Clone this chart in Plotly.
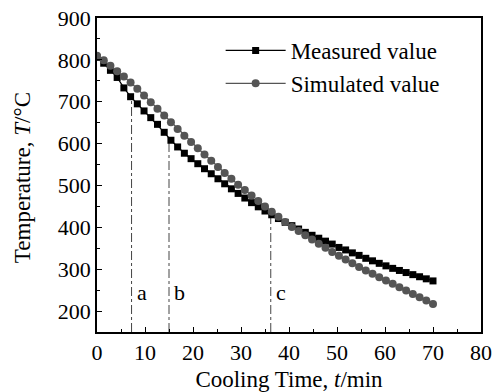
import plotly.graph_objects as go

# --- data ---
time_min = [round(1.4 * i, 1) for i in range(51)]
measured = [806, 792, 775, 758, 733, 712, 695, 678, 662, 646,
            627, 608, 592, 577, 564, 552, 540, 528, 516, 504,
            492, 481, 470, 459, 449, 439, 430, 421, 412, 404,
            396, 388, 381, 374, 367, 360, 352, 346, 339, 333,
            326, 320, 314, 308, 302, 297, 292, 287, 282, 277, 272]
simulated = [810, 799, 786, 773, 760, 746, 731, 715, 699, 683,
             667, 651, 635, 619, 604, 589, 574, 559, 544, 530,
             516, 502, 489, 476, 463, 450, 437, 425, 413, 401,
             391, 381, 371, 361, 351, 341, 332, 323, 314, 305,
             297, 289, 281, 273, 265, 257, 249, 241, 233, 225, 217]

ref_labels = ["a", "b", "c"]
ref_times = [7.2, 15.0, 36.2]
ref_temps = [712, 613, 432]

FONT = "Liberation Serif, Times New Roman, serif"
FS = 22
FT = 23
GRAY = "#555555"

fig = go.Figure()
fig.add_trace(go.Scatter(
    x=time_min, y=measured, name="Measured value", mode="lines+markers",
    line=dict(color="black", width=1.2),
    marker=dict(symbol="square", size=7, color="black")))
fig.add_trace(go.Scatter(
    x=time_min, y=simulated, name="Simulated value", mode="lines+markers",
    line=dict(color=GRAY, width=1.2),
    marker=dict(symbol="circle", size=8, color=GRAY)))

for lab, t, v in zip(ref_labels, ref_times, ref_temps):
    fig.add_shape(type="line", x0=t, x1=t, y0=150, y1=v, xref="x", yref="y",
                  line=dict(color="#444444", width=1, dash="dashdot"), layer="below")
    fig.add_annotation(x=t, y=245, text=lab, showarrow=False, xref="x", yref="y",
                       xanchor="left", xshift=3,
                       font=dict(family=FONT, size=FS, color="black"))

# y-axis title as a rotated annotation for exact placement
fig.add_annotation(text="Temperature, <i>T</i>/°C", xref="paper", yref="paper",
                   x=0, y=0.49, xanchor="center", yanchor="middle", xshift=-75,
                   textangle=-90, showarrow=False,
                   font=dict(family=FONT, size=FT, color="black"))

axis_common = dict(
    showgrid=False, zeroline=False, showline=True, linecolor="black", linewidth=1.5,
    mirror=True, ticks="inside", ticklen=5, tickwidth=1.2, tickcolor="black",
    tickfont=dict(family=FONT, size=FS, color="black"), automargin=False,
)

fig.update_xaxes(
    range=[0, 80], dtick=10, tick0=0,
    minor=dict(dtick=5, ticks="inside", ticklen=3, tickcolor="black", tickwidth=1.2),
    title=dict(text="Cooling Time, <i>t</i>/min", font=dict(family=FONT, size=FT, color="black")),
    **axis_common)
fig.update_yaxes(
    range=[150, 900], dtick=100, tick0=0,
    minor=dict(dtick=50, ticks="inside", ticklen=3, tickcolor="black", tickwidth=1.2),
    **axis_common)

fig.update_layout(
    width=493, height=392,
    margin=dict(l=97, r=12, t=18, b=60),
    plot_bgcolor="white", paper_bgcolor="white",
    font=dict(family=FONT, size=FS, color="black"),
    legend=dict(x=0.322, y=0.965, xanchor="left", yanchor="top",
                bgcolor="rgba(0,0,0,0)", borderwidth=0, itemwidth=60,
                font=dict(family=FONT, size=FT, color="black")),
    showlegend=True,
)

fig.write_html("out.html")
